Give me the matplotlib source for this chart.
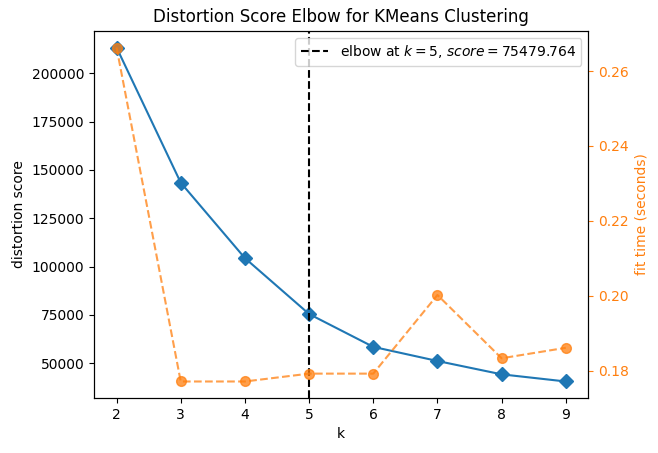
import matplotlib
matplotlib.use("Agg")
import matplotlib.pyplot as plt

k_values = [2, 3, 4, 5, 6, 7, 8, 9]
distortion = [213300, 143400, 104400, 75479.764, 58500, 51200, 44300, 40600]
fit_time = [0.2663, 0.1771, 0.1771, 0.1792, 0.1792, 0.2002, 0.1833, 0.1861]
elbow_k = 5
elbow_score = 75479.764

fig = plt.figure(figsize=(6.58, 4.53), dpi=100)
ax = fig.add_axes([0.143, 0.121, 0.751, 0.811])
ax.plot(k_values, distortion, marker="D", color="#1f77b4", markersize=7)
ax.axvline(elbow_k, color="black", linestyle="--",
           label=f"elbow at $k={elbow_k}$, $score={elbow_score:.3f}$")
ax.set_title("Distortion Score Elbow for KMeans Clustering")
ax.set_xlabel("k")
ax.set_ylabel("distortion score")
ax.legend(loc="upper right", frameon=True)

ax2 = ax.twinx()
ax2.plot(k_values, fit_time, marker="o", linestyle="--", color="#ff7f0e",
         alpha=0.75, markersize=7)
ax2.set_ylabel("fit time (seconds)", color="#ff7f0e")
ax2.tick_params(axis="y", colors="#ff7f0e")

fig.savefig("out.png", dpi=100)
